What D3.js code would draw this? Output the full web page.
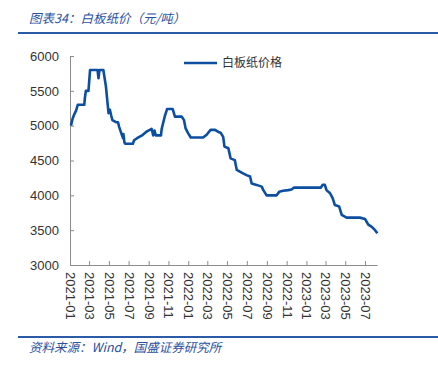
<!DOCTYPE html>
<meta charset="utf-8">
<style>
body { margin: 0; background: #fff; }
svg { display: block; font-family: "Liberation Sans", Arial, sans-serif; }
.axis path, .axis line { stroke: #8c8c8c; }
.axis text { fill: #333; font-size: 13px; }
.cn { font-family: "Noto Sans CJK SC", sans-serif; }
</style>
<svg width="438" height="371"></svg>
<script src="https://cdn.jsdelivr.net/npm/d3@7"></script>
<script>

// 白板纸价格 (元/吨)
var dates = ["2021-01-04","2021-01-09","2021-01-13","2021-01-20","2021-01-25","2021-02-14","2021-02-16","2021-02-19","2021-02-27","2021-03-04",
  "2021-03-27","2021-03-30","2021-04-02","2021-04-14","2021-04-22","2021-04-27","2021-04-30","2021-05-04","2021-05-08","2021-05-12",
  "2021-05-23","2021-05-29","2021-06-02","2021-06-07","2021-06-14","2021-06-15","2021-06-18","2021-06-21","2021-07-14","2021-07-18",
  "2021-07-27","2021-08-13","2021-08-24","2021-08-31","2021-09-10","2021-09-15","2021-09-19","2021-09-23","2021-10-09","2021-10-11",
  "2021-10-16","2021-10-21","2021-10-28","2021-11-14","2021-11-21","2021-12-12","2021-12-19","2021-12-24","2022-01-01","2022-01-09",
  "2022-02-16","2022-02-27","2022-03-11","2022-03-25","2022-04-04","2022-04-11","2022-04-19","2022-04-23","2022-05-05","2022-05-12",
  "2022-05-25","2022-05-31","2022-06-15","2022-06-30","2022-07-11","2022-07-16","2022-07-31","2022-08-16","2022-08-21","2022-08-31",
  "2022-10-01","2022-10-09","2022-10-21","2022-11-06","2022-11-16","2022-11-23","2023-02-14","2023-02-20","2023-02-27","2023-03-04",
  "2023-03-15","2023-03-23","2023-03-30","2023-04-12","2023-04-20","2023-05-05","2023-06-15","2023-07-01","2023-07-11","2023-07-21",
  "2023-08-01","2023-08-08"];
var prices = [5000,5100,5150,5220,5300,5300,5400,5500,5500,5800,
  5800,5680,5800,5800,5560,5320,5180,5230,5150,5080,
  5050,5050,4980,4910,4820,4880,4760,4740,4740,4790,
  4820,4866,4910,4930,4955,4860,4930,4860,4860,4950,
  5045,5140,5240,5240,5130,5130,5080,4960,4890,4830,
  4830,4870,4940,4940,4910,4900,4840,4700,4675,4530,
  4505,4365,4325,4290,4270,4170,4150,4125,4075,4000,
  4000,4050,4065,4075,4085,4110,4110,4150,4150,4075,
  4030,3960,3860,3840,3720,3680,3680,3660,3580,3550,
  3500,3455];
var yTicks = [3000,3500,4000,4500,5000,5500,6000];
var xStart = "2021-01-01", xEnd = "2023-08-07";
var seriesName = "白板纸价格";
var title = "图表34：白板纸价（元/吨）";
var source = "资料来源：Wind，国盛证券研究所";

var parse = d3.timeParse("%Y-%m-%d");
var data = dates.map(function(d, i) { return {date: parse(d), value: prices[i]}; });

var svg = d3.select("svg"),
    margin = {top: 56, right: 61, bottom: 106, left: 70},
    width = +svg.attr("width") - margin.left - margin.right,
    height = +svg.attr("height") - margin.top - margin.bottom;

var x = d3.scaleTime().domain([parse(xStart), parse(xEnd)]).range([0, width]),
    y = d3.scaleLinear().domain([3000, 6000]).range([height, 0]);

// title + rules
svg.append("text")
    .attr("class", "cn")
    .attr("x", 29).attr("y", 23)
    .attr("fill", "#2b4f9e")
    .style("font-size", "12.5px")
    .style("font-style", "italic")
    .text(title);
svg.append("line")
    .attr("x1", 18).attr("x2", 438).attr("y1", 33).attr("y2", 33)
    .attr("stroke", "#2b5aa6").attr("stroke-width", 2);
svg.append("line")
    .attr("x1", 18).attr("x2", 438).attr("y1", 337).attr("y2", 337)
    .attr("stroke", "#2b5aa6").attr("stroke-width", 2);
svg.append("text")
    .attr("class", "cn")
    .attr("x", 29).attr("y", 352)
    .attr("fill", "#2b4f9e")
    .style("font-size", "12.5px")
    .style("font-style", "italic")
    .text(source);

var g = svg.append("g")
    .attr("transform", "translate(" + margin.left + "," + margin.top + ")");

g.append("g")
    .attr("class", "axis axis--y")
    .call(d3.axisLeft(y).tickValues(yTicks).tickFormat(d3.format("d")).tickSize(-4).tickSizeOuter(0).tickPadding(11))
    .attr("font-family", null);

var monthTicks = d3.timeMonth.range(parse(xStart), parse(xEnd)).filter(function(d, i) { return i % 2 === 0; });

var xAxis = g.append("g")
    .attr("class", "axis axis--x")
    .attr("transform", "translate(0," + height + ")")
    .call(d3.axisBottom(x).tickValues(monthTicks).tickSize(-4).tickSizeOuter(0).tickFormat(d3.timeFormat("%Y-%m")))
    .attr("font-family", null);

xAxis.selectAll("text")
    .attr("transform", "rotate(90)")
    .attr("x", 7).attr("y", 0).attr("dy", "0.35em")
    .style("text-anchor", "start");

var line = d3.line()
    .x(function(d) { return x(d.date); })
    .y(function(d) { return y(d.value); });

g.append("path")
    .datum(data)
    .attr("fill", "none")
    .attr("stroke", "#0b4ea2")
    .attr("stroke-width", 2.6)
    .attr("stroke-linejoin", "round")
    .attr("d", line);

// legend
var lg = svg.append("g").attr("transform", "translate(184,63)");
lg.append("line").attr("x1", 0).attr("x2", 33).attr("y1", 0).attr("y2", 0)
    .attr("stroke", "#0b4ea2").attr("stroke-width", 2.6);
lg.append("text")
    .attr("class", "cn")
    .attr("x", 38).attr("y", 0).attr("dy", "0.35em")
    .attr("fill", "#333")
    .style("font-size", "12px")
    .text(seriesName);

</script>
